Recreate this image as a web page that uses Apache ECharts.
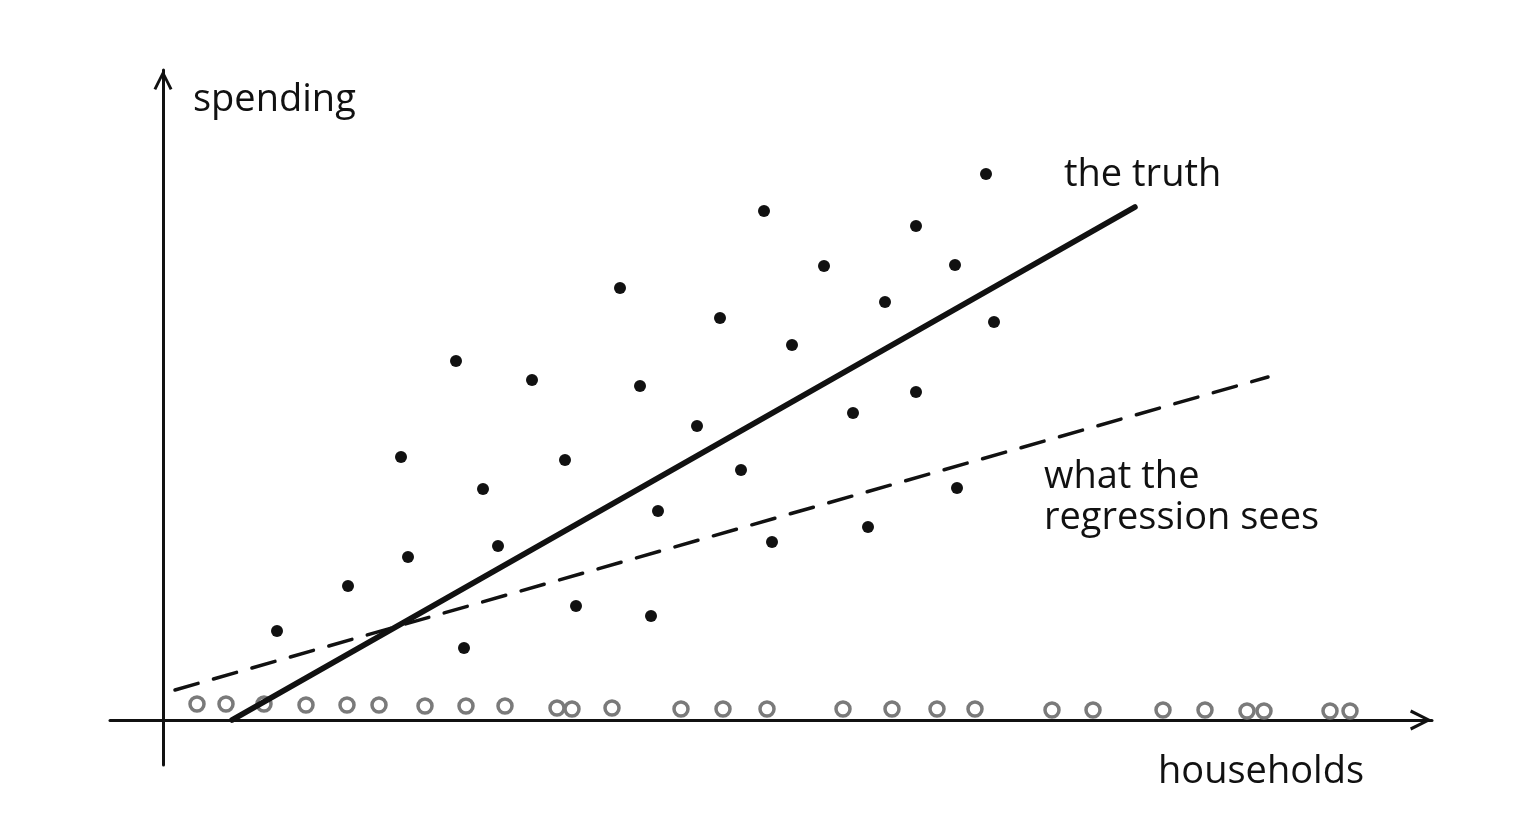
<!DOCTYPE html>
<html>
<head>
<meta charset="utf-8">
<script src="https://cdn.jsdelivr.net/npm/echarts@6/dist/echarts.min.js"></script>
<style>
  html, body { margin: 0; padding: 0; background: #fff; }
  #chart { width: 1531px; height: 826px; }
</style>
</head>
<body>
<div id="chart"></div>
<script>
  // households (x) and spending (y) of the observed households
  var dotX = [114, 185, 238, 245, 293, 301, 320, 335, 369, 402, 413, 457, 477, 488, 495, 534,
              557, 578, 601, 609, 629, 661, 690, 705, 722, 753, 753, 792, 794, 823, 831];
  var dotY = [89, 134, 263, 163, 359, 72, 231, 174, 340, 260, 114, 432, 334, 104, 209, 294,
              402, 250, 509, 178, 375, 454, 307, 193, 418, 494, 328, 455, 232, 546, 398];

  // households the regression only sees near zero
  var ringX = [34, 63, 101, 143, 184, 216, 262, 303, 342, 394, 409, 449, 518, 560, 604,
               680, 729, 774, 812, 889, 930, 1000, 1042, 1084, 1101, 1167, 1187];
  var ringY = [16, 16, 16, 15, 15, 15, 14, 14, 14, 12, 11, 12, 11, 11, 11,
               11, 11, 11, 11, 10, 10, 10, 10, 9, 9, 9, 9];

  // the two lines (start / end points)
  var truthLine = [[69, 0], [972, 513]];
  var seenLine = [[12, 30], [1105, 343]];

  var arrow = 'path://M0,10 L5,0 L10,10 L8.6,10.6 L5,3.2 L1.4,10.6 Z';
  var hand = '"Open Sans", "DejaVu Sans", sans-serif';

  var chart = echarts.init(document.getElementById('chart'));

  function pairs(xs, ys) {
    return xs.map(function (x, i) { return [x, ys[i]]; });
  }

  chart.setOption({
    backgroundColor: '#fff',
    animation: false,
    grid: { left: 110, right: 99, top: 70, bottom: 61 },
    xAxis: {
      type: 'value', min: -53, max: 1269,
      splitLine: { show: false }, axisTick: { show: false }, axisLabel: { show: false },
      axisLine: {
        onZero: true,
        symbol: ['none', arrow], symbolSize: [26, 22], symbolOffset: [0, -11],
        lineStyle: { color: '#111', width: 3 }
      }
    },
    yAxis: {
      type: 'value', min: -45, max: 650,
      splitLine: { show: false }, axisTick: { show: false }, axisLabel: { show: false },
      axisLine: {
        onZero: true,
        symbol: ['none', arrow], symbolSize: [24, 20], symbolOffset: [0, -10],
        lineStyle: { color: '#111', width: 3 }
      }
    },
    graphic: [
      { type: 'text', left: 193, top: 81, style: { text: 'spending', font: '38px ' + hand, fill: '#111' } },
      { type: 'text', left: 1158, top: 753, style: { text: 'households', font: '38px ' + hand, fill: '#111' } },
      { type: 'text', left: 1064, top: 156, style: { text: 'the truth', font: '38px ' + hand, fill: '#111' } },
      { type: 'text', left: 1044, top: 457, style: { text: 'what the\nregression sees', font: '38px ' + hand, lineHeight: 41, fill: '#111' } }
    ],
    series: [
      {
        type: 'scatter', data: pairs(ringX, ringY),
        symbol: 'circle', symbolSize: 14,
        itemStyle: { color: '#fff', borderColor: '#7a7a7a', borderWidth: 3.5, opacity: 1 }
      },
      {
        type: 'line', data: seenLine, symbol: 'none',
        lineStyle: { color: '#111', width: 3.5, type: [24, 16], cap: 'round' }
      },
      {
        type: 'line', data: truthLine, symbol: 'none',
        lineStyle: { color: '#111', width: 5.5, cap: 'round' }
      },
      {
        type: 'scatter', data: pairs(dotX, dotY),
        symbol: 'circle', symbolSize: 12,
        itemStyle: { color: '#111', opacity: 1 }
      }
    ]
  });
</script>
</body>
</html>
